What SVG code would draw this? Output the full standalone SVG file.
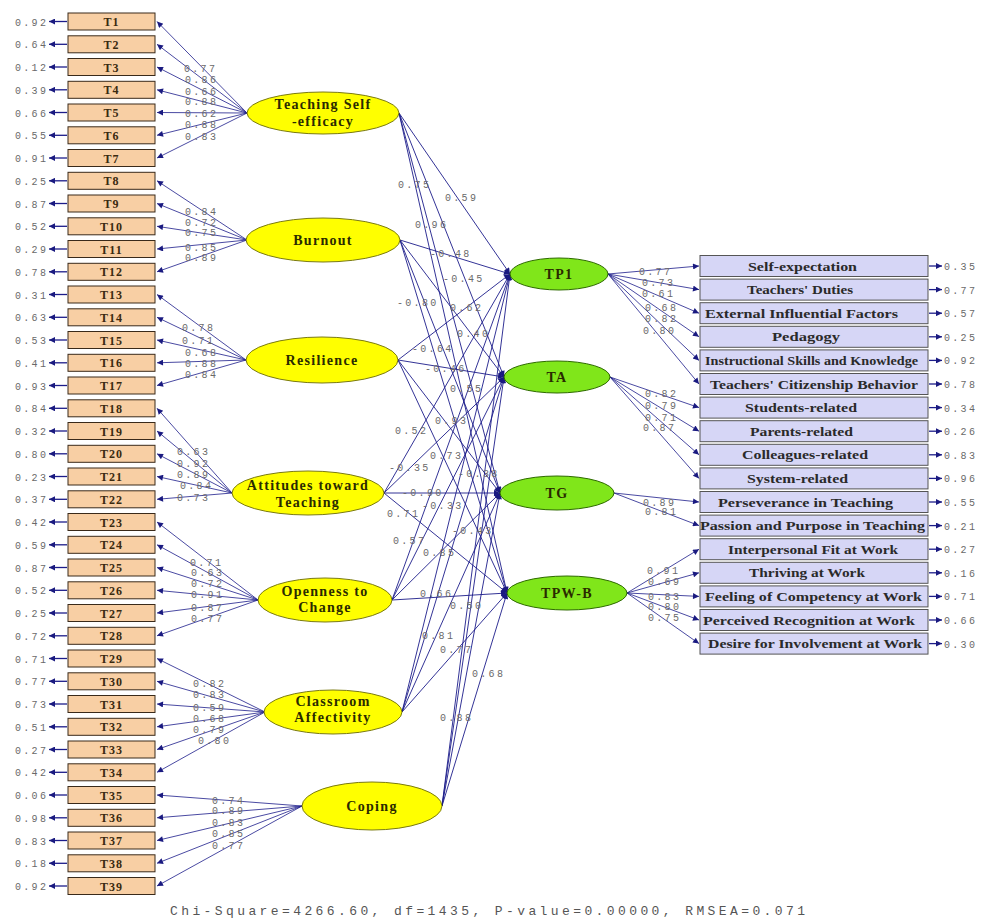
<svg xmlns="http://www.w3.org/2000/svg" width="982" height="921" viewBox="0 0 982 921">
<defs>
<marker id="ah" viewBox="0 0 10 10" refX="10" refY="5" markerWidth="8" markerHeight="6" markerUnits="userSpaceOnUse" orient="auto"><path d="M0,0 L10,5 L0,10 z" fill="#1a1a80"/></marker>
<style>
.tb{fill:#f8cfa4;stroke:#3a2a1a;stroke-width:1}
.tt{font-family:"Liberation Serif",serif;font-weight:bold;font-size:12px;letter-spacing:1px;text-anchor:middle;fill:#3a2a10}
.rb{fill:#d6d6f6;stroke:#555;stroke-width:1}
.rt{font-family:"Liberation Serif",serif;font-weight:bold;font-size:13px;text-anchor:middle;fill:#2a2a2a}
.ye{fill:#ffff00;stroke:#7a7a10;stroke-width:1}
.gr{fill:#80e61a;stroke:#2e6a00;stroke-width:1}
.lt{font-family:"Liberation Serif",serif;font-weight:bold;font-size:14px;letter-spacing:1.3px;text-anchor:middle;fill:#2a2a00}
.n{font-family:"Liberation Mono",monospace;font-size:10px;letter-spacing:2.3px;fill:#6a6a6a}
.ln{stroke:#1c1c8a;stroke-width:0.8;fill:none;marker-end:url(#ah)}
.ls{stroke:#1c1c8a;stroke-width:0.9;fill:none;marker-end:url(#ah)}
.er{stroke:#1c1c8a;stroke-width:1.3;fill:none;marker-end:url(#ah)}
.ft{font-family:"Liberation Mono",monospace;font-size:13px;fill:#555}
</style>
</defs>
<rect width="982" height="921" fill="#ffffff"/>

<g id="connectors">
<line class="er" x1="67" y1="21.5" x2="49" y2="21.5"/>
<line class="er" x1="67" y1="44.3" x2="49" y2="44.3"/>
<line class="er" x1="67" y1="67" x2="49" y2="67"/>
<line class="er" x1="67" y1="89.8" x2="49" y2="89.8"/>
<line class="er" x1="67" y1="112.5" x2="49" y2="112.5"/>
<line class="er" x1="67" y1="135.3" x2="49" y2="135.3"/>
<line class="er" x1="67" y1="158" x2="49" y2="158"/>
<line class="er" x1="67" y1="180.8" x2="49" y2="180.8"/>
<line class="er" x1="67" y1="203.5" x2="49" y2="203.5"/>
<line class="er" x1="67" y1="226.3" x2="49" y2="226.3"/>
<line class="er" x1="67" y1="249" x2="49" y2="249"/>
<line class="er" x1="67" y1="271.8" x2="49" y2="271.8"/>
<line class="er" x1="67" y1="294.5" x2="49" y2="294.5"/>
<line class="er" x1="67" y1="317.3" x2="49" y2="317.3"/>
<line class="er" x1="67" y1="340" x2="49" y2="340"/>
<line class="er" x1="67" y1="362.8" x2="49" y2="362.8"/>
<line class="er" x1="67" y1="385.5" x2="49" y2="385.5"/>
<line class="er" x1="67" y1="408.3" x2="49" y2="408.3"/>
<line class="er" x1="67" y1="431" x2="49" y2="431"/>
<line class="er" x1="67" y1="453.8" x2="49" y2="453.8"/>
<line class="er" x1="67" y1="476.5" x2="49" y2="476.5"/>
<line class="er" x1="67" y1="499.3" x2="49" y2="499.3"/>
<line class="er" x1="67" y1="522" x2="49" y2="522"/>
<line class="er" x1="67" y1="544.8" x2="49" y2="544.8"/>
<line class="er" x1="67" y1="567.5" x2="49" y2="567.5"/>
<line class="er" x1="67" y1="590.3" x2="49" y2="590.3"/>
<line class="er" x1="67" y1="613" x2="49" y2="613"/>
<line class="er" x1="67" y1="635.8" x2="49" y2="635.8"/>
<line class="er" x1="67" y1="658.5" x2="49" y2="658.5"/>
<line class="er" x1="67" y1="681.3" x2="49" y2="681.3"/>
<line class="er" x1="67" y1="704" x2="49" y2="704"/>
<line class="er" x1="67" y1="726.8" x2="49" y2="726.8"/>
<line class="er" x1="67" y1="749.5" x2="49" y2="749.5"/>
<line class="er" x1="67" y1="772.3" x2="49" y2="772.3"/>
<line class="er" x1="67" y1="795" x2="49" y2="795"/>
<line class="er" x1="67" y1="817.8" x2="49" y2="817.8"/>
<line class="er" x1="67" y1="840.5" x2="49" y2="840.5"/>
<line class="er" x1="67" y1="863.3" x2="49" y2="863.3"/>
<line class="er" x1="67" y1="886" x2="49" y2="886"/>

<line class="ln" x1="247" y1="113" x2="157" y2="21.5"/>
<line class="ln" x1="247" y1="113" x2="157" y2="44.3"/>
<line class="ln" x1="247" y1="113" x2="157" y2="67"/>
<line class="ln" x1="247" y1="113" x2="157" y2="89.8"/>
<line class="ln" x1="247" y1="113" x2="157" y2="112.5"/>
<line class="ln" x1="247" y1="113" x2="157" y2="135.3"/>
<line class="ln" x1="247" y1="113" x2="157" y2="158"/>
<line class="ln" x1="247" y1="240" x2="157" y2="180.8"/>
<line class="ln" x1="247" y1="240" x2="157" y2="203.5"/>
<line class="ln" x1="247" y1="240" x2="157" y2="226.3"/>
<line class="ln" x1="247" y1="240" x2="157" y2="249"/>
<line class="ln" x1="247" y1="240" x2="157" y2="271.8"/>
<line class="ln" x1="246" y1="360" x2="157" y2="294.5"/>
<line class="ln" x1="246" y1="360" x2="157" y2="317.3"/>
<line class="ln" x1="246" y1="360" x2="157" y2="340"/>
<line class="ln" x1="246" y1="360" x2="157" y2="362.8"/>
<line class="ln" x1="246" y1="360" x2="157" y2="385.5"/>
<line class="ln" x1="232" y1="493" x2="157" y2="408.3"/>
<line class="ln" x1="232" y1="493" x2="157" y2="431"/>
<line class="ln" x1="232" y1="493" x2="157" y2="453.8"/>
<line class="ln" x1="232" y1="493" x2="157" y2="476.5"/>
<line class="ln" x1="232" y1="493" x2="157" y2="499.3"/>
<line class="ln" x1="258" y1="600" x2="157" y2="522"/>
<line class="ln" x1="258" y1="600" x2="157" y2="544.8"/>
<line class="ln" x1="258" y1="600" x2="157" y2="567.5"/>
<line class="ln" x1="258" y1="600" x2="157" y2="590.3"/>
<line class="ln" x1="258" y1="600" x2="157" y2="613"/>
<line class="ln" x1="258" y1="600" x2="157" y2="635.8"/>
<line class="ln" x1="265" y1="712" x2="157" y2="658.5"/>
<line class="ln" x1="265" y1="712" x2="157" y2="681.3"/>
<line class="ln" x1="265" y1="712" x2="157" y2="704"/>
<line class="ln" x1="265" y1="712" x2="157" y2="726.8"/>
<line class="ln" x1="265" y1="712" x2="157" y2="749.5"/>
<line class="ln" x1="265" y1="712" x2="157" y2="772.3"/>
<line class="ln" x1="302" y1="806" x2="157" y2="795"/>
<line class="ln" x1="302" y1="806" x2="157" y2="817.8"/>
<line class="ln" x1="302" y1="806" x2="157" y2="840.5"/>
<line class="ln" x1="302" y1="806" x2="157" y2="863.3"/>
<line class="ln" x1="302" y1="806" x2="157" y2="886"/>

<line class="ls" x1="399" y1="113" x2="510" y2="274"/>
<line class="ls" x1="399" y1="113" x2="504" y2="377"/>
<line class="ls" x1="399" y1="113" x2="500" y2="493"/>
<line class="ls" x1="399" y1="113" x2="507" y2="593"/>
<line class="ls" x1="400" y1="240" x2="510" y2="274"/>
<line class="ls" x1="400" y1="240" x2="504" y2="377"/>
<line class="ls" x1="400" y1="240" x2="500" y2="493"/>
<line class="ls" x1="400" y1="240" x2="507" y2="593"/>
<line class="ls" x1="398" y1="360" x2="510" y2="274"/>
<line class="ls" x1="398" y1="360" x2="504" y2="377"/>
<line class="ls" x1="398" y1="360" x2="500" y2="493"/>
<line class="ls" x1="398" y1="360" x2="507" y2="593"/>
<line class="ls" x1="384" y1="493" x2="510" y2="274"/>
<line class="ls" x1="384" y1="493" x2="504" y2="377"/>
<line class="ls" x1="384" y1="493" x2="500" y2="493"/>
<line class="ls" x1="384" y1="493" x2="507" y2="593"/>
<line class="ls" x1="392" y1="600" x2="510" y2="274"/>
<line class="ls" x1="392" y1="600" x2="504" y2="377"/>
<line class="ls" x1="392" y1="600" x2="500" y2="493"/>
<line class="ls" x1="392" y1="600" x2="507" y2="593"/>
<line class="ls" x1="402" y1="712" x2="510" y2="274"/>
<line class="ls" x1="402" y1="712" x2="504" y2="377"/>
<line class="ls" x1="402" y1="712" x2="500" y2="493"/>
<line class="ls" x1="402" y1="712" x2="507" y2="593"/>
<line class="ls" x1="442" y1="806" x2="510" y2="274"/>
<line class="ls" x1="442" y1="806" x2="504" y2="377"/>
<line class="ls" x1="442" y1="806" x2="500" y2="493"/>
<line class="ls" x1="442" y1="806" x2="507" y2="593"/>

<line class="ln" x1="608" y1="274" x2="699" y2="266"/>
<line class="ln" x1="608" y1="274" x2="699" y2="289.6"/>
<line class="ln" x1="608" y1="274" x2="699" y2="313.2"/>
<line class="ln" x1="608" y1="274" x2="699" y2="336.8"/>
<line class="ln" x1="608" y1="274" x2="699" y2="360.4"/>
<line class="ln" x1="608" y1="274" x2="699" y2="384"/>
<line class="ln" x1="610" y1="377" x2="699" y2="407.6"/>
<line class="ln" x1="610" y1="377" x2="699" y2="431.2"/>
<line class="ln" x1="610" y1="377" x2="699" y2="454.8"/>
<line class="ln" x1="610" y1="377" x2="699" y2="478.4"/>
<line class="ln" x1="614" y1="493" x2="699" y2="502"/>
<line class="ln" x1="614" y1="493" x2="699" y2="525.6"/>
<line class="ln" x1="627" y1="593" x2="699" y2="549.2"/>
<line class="ln" x1="627" y1="593" x2="699" y2="572.8"/>
<line class="ln" x1="627" y1="593" x2="699" y2="596.4"/>
<line class="ln" x1="627" y1="593" x2="699" y2="620"/>
<line class="ln" x1="627" y1="593" x2="699" y2="643.6"/>

<line class="er" x1="929" y1="266" x2="942" y2="266"/>
<line class="er" x1="929" y1="289.6" x2="942" y2="289.6"/>
<line class="er" x1="929" y1="313.2" x2="942" y2="313.2"/>
<line class="er" x1="929" y1="336.8" x2="942" y2="336.8"/>
<line class="er" x1="929" y1="360.4" x2="942" y2="360.4"/>
<line class="er" x1="929" y1="384" x2="942" y2="384"/>
<line class="er" x1="929" y1="407.6" x2="942" y2="407.6"/>
<line class="er" x1="929" y1="431.2" x2="942" y2="431.2"/>
<line class="er" x1="929" y1="454.8" x2="942" y2="454.8"/>
<line class="er" x1="929" y1="478.4" x2="942" y2="478.4"/>
<line class="er" x1="929" y1="502" x2="942" y2="502"/>
<line class="er" x1="929" y1="525.6" x2="942" y2="525.6"/>
<line class="er" x1="929" y1="549.2" x2="942" y2="549.2"/>
<line class="er" x1="929" y1="572.8" x2="942" y2="572.8"/>
<line class="er" x1="929" y1="596.4" x2="942" y2="596.4"/>
<line class="er" x1="929" y1="620" x2="942" y2="620"/>
<line class="er" x1="929" y1="643.6" x2="942" y2="643.6"/>
</g>

<g id="labels">
<text class="n" x="15" y="25.5">0.92</text>
<text class="n" x="15" y="48.3">0.64</text>
<text class="n" x="15" y="71">0.12</text>
<text class="n" x="15" y="93.8">0.39</text>
<text class="n" x="15" y="116.5">0.66</text>
<text class="n" x="15" y="139.3">0.55</text>
<text class="n" x="15" y="162">0.91</text>
<text class="n" x="15" y="184.8">0.25</text>
<text class="n" x="15" y="207.5">0.87</text>
<text class="n" x="15" y="230.3">0.52</text>
<text class="n" x="15" y="253">0.29</text>
<text class="n" x="15" y="275.8">0.78</text>
<text class="n" x="15" y="298.5">0.31</text>
<text class="n" x="15" y="321.3">0.63</text>
<text class="n" x="15" y="344">0.53</text>
<text class="n" x="15" y="366.8">0.41</text>
<text class="n" x="15" y="389.5">0.93</text>
<text class="n" x="15" y="412.3">0.84</text>
<text class="n" x="15" y="435">0.32</text>
<text class="n" x="15" y="457.8">0.80</text>
<text class="n" x="15" y="480.5">0.23</text>
<text class="n" x="15" y="503.3">0.37</text>
<text class="n" x="15" y="526">0.42</text>
<text class="n" x="15" y="548.8">0.59</text>
<text class="n" x="15" y="571.5">0.87</text>
<text class="n" x="15" y="594.3">0.52</text>
<text class="n" x="15" y="617">0.25</text>
<text class="n" x="15" y="639.8">0.72</text>
<text class="n" x="15" y="662.5">0.71</text>
<text class="n" x="15" y="685.3">0.77</text>
<text class="n" x="15" y="708">0.73</text>
<text class="n" x="15" y="730.8">0.51</text>
<text class="n" x="15" y="753.5">0.27</text>
<text class="n" x="15" y="776.3">0.42</text>
<text class="n" x="15" y="799">0.06</text>
<text class="n" x="15" y="821.8">0.98</text>
<text class="n" x="15" y="844.5">0.83</text>
<text class="n" x="15" y="867.3">0.18</text>
<text class="n" x="15" y="890">0.92</text>

<text class="n" x="184" y="72">0.77</text>
<text class="n" x="185" y="83">0.86</text>
<text class="n" x="185" y="95">0.66</text>
<text class="n" x="185" y="105">0.88</text>
<text class="n" x="185" y="117">0.62</text>
<text class="n" x="185" y="128">0.88</text>
<text class="n" x="185" y="140">0.83</text>
<text class="n" x="185" y="215">0.84</text>
<text class="n" x="185" y="226">0.72</text>
<text class="n" x="185" y="236">0.75</text>
<text class="n" x="185" y="251">0.85</text>
<text class="n" x="185" y="261">0.89</text>
<text class="n" x="182" y="331">0.78</text>
<text class="n" x="182" y="344">0.71</text>
<text class="n" x="185" y="356">0.68</text>
<text class="n" x="185" y="367">0.88</text>
<text class="n" x="185" y="378">0.84</text>
<text class="n" x="177" y="455">0.63</text>
<text class="n" x="177" y="467">0.92</text>
<text class="n" x="177" y="478">0.89</text>
<text class="n" x="180" y="489">0.84</text>
<text class="n" x="177" y="501">0.73</text>
<text class="n" x="190" y="566">0.71</text>
<text class="n" x="191" y="576">0.63</text>
<text class="n" x="191" y="587">0.72</text>
<text class="n" x="191" y="598">0.91</text>
<text class="n" x="191" y="611">0.87</text>
<text class="n" x="191" y="622">0.77</text>
<text class="n" x="193" y="687">0.82</text>
<text class="n" x="193" y="698">0.83</text>
<text class="n" x="193" y="711">0.59</text>
<text class="n" x="193" y="722">0.68</text>
<text class="n" x="193" y="733">0.79</text>
<text class="n" x="198" y="744">0.80</text>
<text class="n" x="212" y="804">0.74</text>
<text class="n" x="212" y="814">0.89</text>
<text class="n" x="212" y="826">0.83</text>
<text class="n" x="212" y="837">0.85</text>
<text class="n" x="212" y="849">0.77</text>

<text class="n" x="398" y="188">0.75</text>
<text class="n" x="445" y="201">0.59</text>
<text class="n" x="415" y="228">0.96</text>
<text class="n" x="430" y="257">-0.48</text>
<text class="n" x="443" y="282">-0.45</text>
<text class="n" x="397" y="306">-0.80</text>
<text class="n" x="450" y="311">0.62</text>
<text class="n" x="457" y="337">0.40</text>
<text class="n" x="412" y="352">-0.64</text>
<text class="n" x="425" y="372">-0.46</text>
<text class="n" x="450" y="392">0.55</text>
<text class="n" x="435" y="424">0.93</text>
<text class="n" x="395" y="434">0.52</text>
<text class="n" x="430" y="459">0.73</text>
<text class="n" x="389" y="471">-0.35</text>
<text class="n" x="458" y="477">-0.38</text>
<text class="n" x="402" y="496">-0.90</text>
<text class="n" x="422" y="509">-0.33</text>
<text class="n" x="387" y="517">0.71</text>
<text class="n" x="452" y="534">-0.43</text>
<text class="n" x="393" y="544">0.57</text>
<text class="n" x="423" y="556">0.85</text>
<text class="n" x="420" y="597">0.66</text>
<text class="n" x="450" y="609">0.50</text>
<text class="n" x="422" y="639">0.81</text>
<text class="n" x="440" y="653">0.77</text>
<text class="n" x="472" y="677">0.68</text>
<text class="n" x="440" y="721">0.88</text>

<text class="n" x="639" y="275">0.77</text>
<text class="n" x="642" y="286">0.73</text>
<text class="n" x="642" y="297">0.61</text>
<text class="n" x="645" y="311">0.68</text>
<text class="n" x="645" y="322">0.82</text>
<text class="n" x="643" y="334">0.80</text>
<text class="n" x="645" y="397">0.82</text>
<text class="n" x="645" y="409">0.79</text>
<text class="n" x="645" y="421">0.71</text>
<text class="n" x="643" y="431">0.87</text>
<text class="n" x="643" y="506">0.89</text>
<text class="n" x="645" y="515">0.81</text>
<text class="n" x="647" y="574">0.91</text>
<text class="n" x="648" y="585">0.69</text>
<text class="n" x="648" y="600">0.83</text>
<text class="n" x="648" y="610">0.80</text>
<text class="n" x="648" y="621">0.75</text>

<text class="n" x="944" y="270">0.35</text>
<text class="n" x="944" y="293.6">0.77</text>
<text class="n" x="944" y="317.2">0.57</text>
<text class="n" x="944" y="340.8">0.25</text>
<text class="n" x="944" y="364.4">0.92</text>
<text class="n" x="944" y="388">0.78</text>
<text class="n" x="944" y="411.6">0.34</text>
<text class="n" x="944" y="435.2">0.26</text>
<text class="n" x="944" y="458.8">0.83</text>
<text class="n" x="944" y="482.4">0.96</text>
<text class="n" x="944" y="506">0.55</text>
<text class="n" x="944" y="529.6">0.21</text>
<text class="n" x="944" y="553.2">0.27</text>
<text class="n" x="944" y="576.8">0.16</text>
<text class="n" x="944" y="600.4">0.71</text>
<text class="n" x="944" y="624">0.66</text>
<text class="n" x="944" y="647.6">0.30</text>

<text class="ft" x="170" y="915" textLength="635" lengthAdjust="spacing">Chi-Square=4266.60, df=1435, P-value=0.00000, RMSEA=0.071</text>
</g>

<g id="T1"><rect class="tb" x="68" y="13" width="87" height="17"/><text class="tt" x="111.5" y="26">T1</text></g>
<g id="T2"><rect class="tb" x="68" y="35.8" width="87" height="17"/><text class="tt" x="111.5" y="48.8">T2</text></g>
<g id="T3"><rect class="tb" x="68" y="58.5" width="87" height="17"/><text class="tt" x="111.5" y="71.5">T3</text></g>
<g id="T4"><rect class="tb" x="68" y="81.3" width="87" height="17"/><text class="tt" x="111.5" y="94.3">T4</text></g>
<g id="T5"><rect class="tb" x="68" y="104" width="87" height="17"/><text class="tt" x="111.5" y="117">T5</text></g>
<g id="T6"><rect class="tb" x="68" y="126.8" width="87" height="17"/><text class="tt" x="111.5" y="139.8">T6</text></g>
<g id="T7"><rect class="tb" x="68" y="149.5" width="87" height="17"/><text class="tt" x="111.5" y="162.5">T7</text></g>
<g id="T8"><rect class="tb" x="68" y="172.3" width="87" height="17"/><text class="tt" x="111.5" y="185.3">T8</text></g>
<g id="T9"><rect class="tb" x="68" y="195" width="87" height="17"/><text class="tt" x="111.5" y="208">T9</text></g>
<g id="T10"><rect class="tb" x="68" y="217.8" width="87" height="17"/><text class="tt" x="111.5" y="230.8">T10</text></g>
<g id="T11"><rect class="tb" x="68" y="240.5" width="87" height="17"/><text class="tt" x="111.5" y="253.5">T11</text></g>
<g id="T12"><rect class="tb" x="68" y="263.3" width="87" height="17"/><text class="tt" x="111.5" y="276.3">T12</text></g>
<g id="T13"><rect class="tb" x="68" y="286" width="87" height="17"/><text class="tt" x="111.5" y="299">T13</text></g>
<g id="T14"><rect class="tb" x="68" y="308.8" width="87" height="17"/><text class="tt" x="111.5" y="321.8">T14</text></g>
<g id="T15"><rect class="tb" x="68" y="331.5" width="87" height="17"/><text class="tt" x="111.5" y="344.5">T15</text></g>
<g id="T16"><rect class="tb" x="68" y="354.3" width="87" height="17"/><text class="tt" x="111.5" y="367.3">T16</text></g>
<g id="T17"><rect class="tb" x="68" y="377" width="87" height="17"/><text class="tt" x="111.5" y="390">T17</text></g>
<g id="T18"><rect class="tb" x="68" y="399.8" width="87" height="17"/><text class="tt" x="111.5" y="412.8">T18</text></g>
<g id="T19"><rect class="tb" x="68" y="422.5" width="87" height="17"/><text class="tt" x="111.5" y="435.5">T19</text></g>
<g id="T20"><rect class="tb" x="68" y="445.3" width="87" height="17"/><text class="tt" x="111.5" y="458.3">T20</text></g>
<g id="T21"><rect class="tb" x="68" y="468" width="87" height="17"/><text class="tt" x="111.5" y="481">T21</text></g>
<g id="T22"><rect class="tb" x="68" y="490.8" width="87" height="17"/><text class="tt" x="111.5" y="503.8">T22</text></g>
<g id="T23"><rect class="tb" x="68" y="513.5" width="87" height="17"/><text class="tt" x="111.5" y="526.5">T23</text></g>
<g id="T24"><rect class="tb" x="68" y="536.3" width="87" height="17"/><text class="tt" x="111.5" y="549.3">T24</text></g>
<g id="T25"><rect class="tb" x="68" y="559" width="87" height="17"/><text class="tt" x="111.5" y="572">T25</text></g>
<g id="T26"><rect class="tb" x="68" y="581.8" width="87" height="17"/><text class="tt" x="111.5" y="594.8">T26</text></g>
<g id="T27"><rect class="tb" x="68" y="604.5" width="87" height="17"/><text class="tt" x="111.5" y="617.5">T27</text></g>
<g id="T28"><rect class="tb" x="68" y="627.3" width="87" height="17"/><text class="tt" x="111.5" y="640.3">T28</text></g>
<g id="T29"><rect class="tb" x="68" y="650" width="87" height="17"/><text class="tt" x="111.5" y="663">T29</text></g>
<g id="T30"><rect class="tb" x="68" y="672.8" width="87" height="17"/><text class="tt" x="111.5" y="685.8">T30</text></g>
<g id="T31"><rect class="tb" x="68" y="695.5" width="87" height="17"/><text class="tt" x="111.5" y="708.5">T31</text></g>
<g id="T32"><rect class="tb" x="68" y="718.3" width="87" height="17"/><text class="tt" x="111.5" y="731.3">T32</text></g>
<g id="T33"><rect class="tb" x="68" y="741" width="87" height="17"/><text class="tt" x="111.5" y="754">T33</text></g>
<g id="T34"><rect class="tb" x="68" y="763.8" width="87" height="17"/><text class="tt" x="111.5" y="776.8">T34</text></g>
<g id="T35"><rect class="tb" x="68" y="786.5" width="87" height="17"/><text class="tt" x="111.5" y="799.5">T35</text></g>
<g id="T36"><rect class="tb" x="68" y="809.3" width="87" height="17"/><text class="tt" x="111.5" y="822.3">T36</text></g>
<g id="T37"><rect class="tb" x="68" y="832" width="87" height="17"/><text class="tt" x="111.5" y="845">T37</text></g>
<g id="T38"><rect class="tb" x="68" y="854.8" width="87" height="17"/><text class="tt" x="111.5" y="867.8">T38</text></g>
<g id="T39"><rect class="tb" x="68" y="877.5" width="87" height="17"/><text class="tt" x="111.5" y="890.5">T39</text></g>

<g id="TeachingSelfEfficacy"><ellipse class="ye" cx="323" cy="113" rx="76" ry="21"/><text class="lt" x="323" y="109">Teaching Self</text><text class="lt" x="323" y="126">-efficacy</text></g>
<g id="Burnout"><ellipse class="ye" cx="323" cy="240" rx="77" ry="22"/><text class="lt" x="323" y="245">Burnout</text></g>
<g id="Resilience"><ellipse class="ye" cx="322" cy="360" rx="76" ry="23"/><text class="lt" x="322" y="365">Resilience</text></g>
<g id="Attitudes"><ellipse class="ye" cx="308" cy="493" rx="76" ry="22"/><text class="lt" x="308" y="490">Attitudes toward</text><text class="lt" x="308" y="507">Teaching</text></g>
<g id="Openness"><ellipse class="ye" cx="325" cy="600" rx="67" ry="22"/><text class="lt" x="325" y="596">Openness to</text><text class="lt" x="325" y="612">Change</text></g>
<g id="Classroom"><ellipse class="ye" cx="333" cy="712" rx="69" ry="22"/><text class="lt" x="333" y="706">Classroom</text><text class="lt" x="333" y="722">Affectivity</text></g>
<g id="Coping"><ellipse class="ye" cx="372" cy="806" rx="70" ry="24"/><text class="lt" x="372" y="811">Coping</text></g>

<g id="TP1"><ellipse class="gr" cx="559" cy="274" rx="49" ry="16"/><text class="lt" x="559" y="279">TP1</text></g>
<g id="TA"><ellipse class="gr" cx="557" cy="377" rx="53" ry="16"/><text class="lt" x="557" y="382">TA</text></g>
<g id="TG"><ellipse class="gr" cx="557" cy="493" rx="57" ry="17"/><text class="lt" x="557" y="498">TG</text></g>
<g id="TPW-B"><ellipse class="gr" cx="567" cy="593" rx="60" ry="17"/><text class="lt" x="567" y="598">TPW-B</text></g>

<g id="SelfExpectation"><rect class="rb" x="700" y="255.5" width="228" height="21"/><text class="rt" x="802.5" y="270.5" textLength="109" lengthAdjust="spacingAndGlyphs">Self-expectation</text></g>
<g id="TeachersDuties"><rect class="rb" x="700" y="279.1" width="228" height="21"/><text class="rt" x="800" y="294.1" textLength="106" lengthAdjust="spacingAndGlyphs">Teachers' Duties</text></g>
<g id="ExternalFactors"><rect class="rb" x="700" y="302.7" width="228" height="21"/><text class="rt" x="801.5" y="317.7" textLength="193" lengthAdjust="spacingAndGlyphs">External Influential Factors</text></g>
<g id="Pedagogy"><rect class="rb" x="700" y="326.3" width="228" height="21"/><text class="rt" x="806" y="341.3" textLength="68" lengthAdjust="spacingAndGlyphs">Pedagogy</text></g>
<g id="Instructional"><rect class="rb" x="700" y="349.9" width="228" height="21"/><text class="rt" x="811.5" y="364.9" textLength="213" lengthAdjust="spacingAndGlyphs">Instructional Skills and Knowledge</text></g>
<g id="Citizenship"><rect class="rb" x="700" y="373.5" width="228" height="21"/><text class="rt" x="814" y="388.5" textLength="208" lengthAdjust="spacingAndGlyphs">Teachers' Citizenship Behavior</text></g>
<g id="Students"><rect class="rb" x="700" y="397.1" width="228" height="21"/><text class="rt" x="801" y="412.1" textLength="112" lengthAdjust="spacingAndGlyphs">Students-related</text></g>
<g id="Parents"><rect class="rb" x="700" y="420.7" width="228" height="21"/><text class="rt" x="801.5" y="435.7" textLength="103" lengthAdjust="spacingAndGlyphs">Parents-related</text></g>
<g id="Colleagues"><rect class="rb" x="700" y="444.3" width="228" height="21"/><text class="rt" x="805" y="459.3" textLength="126" lengthAdjust="spacingAndGlyphs">Colleagues-related</text></g>
<g id="System"><rect class="rb" x="700" y="467.9" width="228" height="21"/><text class="rt" x="797.5" y="482.9" textLength="101" lengthAdjust="spacingAndGlyphs">System-related</text></g>
<g id="Perseverance"><rect class="rb" x="700" y="491.5" width="228" height="21"/><text class="rt" x="805.5" y="506.5" textLength="175" lengthAdjust="spacingAndGlyphs">Perseverance in Teaching</text></g>
<g id="Passion"><rect class="rb" x="700" y="515.1" width="228" height="21"/><text class="rt" x="812.5" y="530.1" textLength="225" lengthAdjust="spacingAndGlyphs">Passion and Purpose in Teaching</text></g>
<g id="Interpersonal"><rect class="rb" x="700" y="538.7" width="228" height="21"/><text class="rt" x="813" y="553.7" textLength="170" lengthAdjust="spacingAndGlyphs">Interpersonal Fit at Work</text></g>
<g id="Thriving"><rect class="rb" x="700" y="562.3" width="228" height="21"/><text class="rt" x="807" y="577.3" textLength="116" lengthAdjust="spacingAndGlyphs">Thriving at Work</text></g>
<g id="Competency"><rect class="rb" x="700" y="585.9" width="228" height="21"/><text class="rt" x="813.5" y="600.9" textLength="217" lengthAdjust="spacingAndGlyphs">Feeling of Competency at Work</text></g>
<g id="Recognition"><rect class="rb" x="700" y="609.5" width="228" height="21"/><text class="rt" x="809" y="624.5" textLength="212" lengthAdjust="spacingAndGlyphs">Perceived Recognition at Work</text></g>
<g id="Involvement"><rect class="rb" x="700" y="633.1" width="228" height="21"/><text class="rt" x="815" y="648.1" textLength="214" lengthAdjust="spacingAndGlyphs">Desire for Involvement at Work</text></g>
</svg>
